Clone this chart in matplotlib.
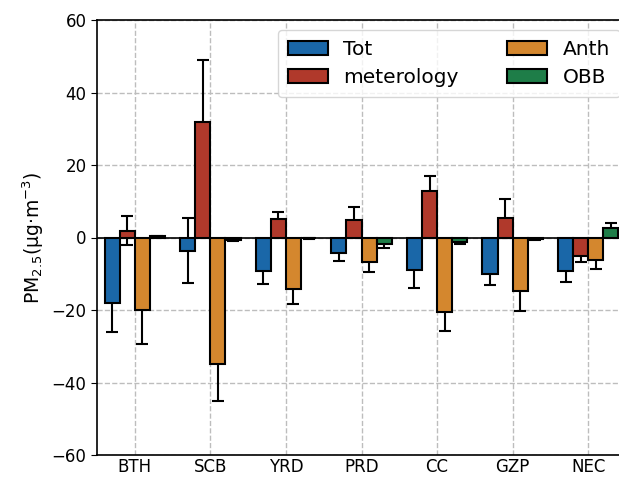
import numpy as np
import matplotlib
matplotlib.use("Agg")
import matplotlib.pyplot as plt

regions = ["BTH", "SCB", "YRD", "PRD", "CC", "GZP", "NEC"]
series = ["Tot", "meterology", "Anth", "OBB"]
tot = [-18.0, -3.6, -9.3, -4.2, -8.9, -10.0, -9.3]
tot_err = [8.0, 8.9, 3.5, 2.2, 4.9, 3.0, 3.0]
met = [1.9, 32.0, 5.0, 4.7, 12.8, 5.3, -5.2]
met_err = [4.1, 17.0, 2.0, 3.7, 4.2, 5.3, 1.5]
anth = [-20.0, -34.8, -14.1, -6.8, -20.5, -14.8, -6.3]
anth_err = [9.3, 10.4, 4.2, 2.7, 5.3, 5.5, 2.3]
obb = [0.3, -0.7, -0.2, -1.9, -1.2, -0.5, 2.7]
obb_err = [0.2, 0.2, 0.1, 1.0, 0.5, 0.2, 1.2]
colors = ["#1a67a8", "#b0392b", "#d4872e", "#1e7d48"]

values = [tot, met, anth, obb]
errors = [tot_err, met_err, anth_err, obb_err]

fig = plt.figure(figsize=(6.19, 4.79), dpi=100)
ax = fig.add_axes([97 / 619, 24 / 479, 529 / 619, 435 / 479])

x = np.arange(len(regions))
w = 0.2
for i, (name, vals, errs, c) in enumerate(zip(series, values, errors, colors)):
    pos = x + (i - 1.5) * w
    ax.errorbar(pos, vals, yerr=errs, fmt="none", ecolor="black",
                elinewidth=1.5, capsize=4, capthick=1.5, zorder=2)
    ax.bar(pos, vals, width=w, color=c, edgecolor="black", linewidth=1.5,
           label=name, zorder=3)

ax.axhline(0, color="black", linewidth=1.2, zorder=4)
ax.set_xlim(-0.5, 6.5)
ax.set_ylim(-60, 60)
ax.set_yticks([-60, -40, -20, 0, 20, 40, 60])
ax.set_xticks(x)
ax.set_xticklabels(regions)
ax.tick_params(axis="x", length=0, labelsize=12, pad=2)
ax.tick_params(axis="y", labelsize=12, length=4)
ax.grid(True, linestyle="--", color="#bdbdbd", linewidth=1.0, zorder=0)
ax.set_axisbelow(True)
ax.set_ylabel("PM$_{2.5}$(μg·m$^{-3}$)", fontsize=13.5)
for s in ax.spines.values():
    s.set_linewidth(1.2)

ax.legend(ncol=2, loc="upper left", bbox_to_anchor=(0.342, 0.977), borderaxespad=0,
          fontsize=14.5, handlelength=2.0, columnspacing=2.4, handletextpad=0.75,
          borderpad=0.5, labelspacing=0.45, framealpha=0.8)

fig.savefig("out.png", dpi=100)
